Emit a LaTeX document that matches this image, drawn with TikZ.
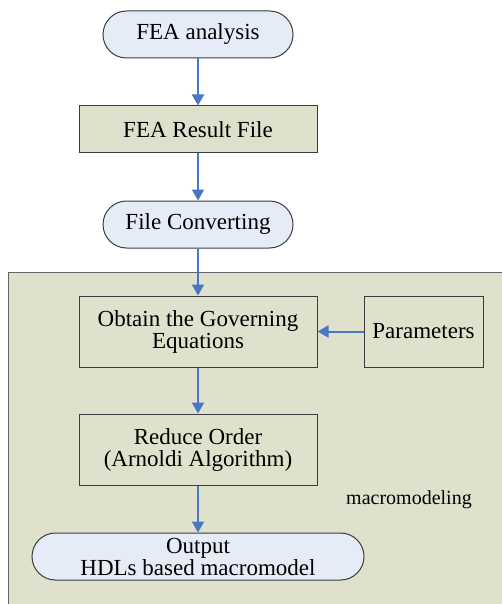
\documentclass[tikz,border=0pt]{standalone}
\usepackage{fontspec}
\setmainfont{Liberation Serif}
\usetikzlibrary{shapes.misc,arrows.meta}
\definecolor{capfill}{RGB}{230,236,247}
\definecolor{boxfill}{RGB}{221,224,203}
\definecolor{bgfill}{RGB}{223,225,204}
\definecolor{arrowblue}{RGB}{70,120,196}
\definecolor{edge}{RGB}{60,60,60}
\tikzset{
  capsule/.style={rounded rectangle, draw=edge, line width=1pt, fill=capfill, minimum height=47pt, inner sep=0pt, font=\fontsize{23}{22}\selectfont, align=center},
  boxnode/.style={rectangle, draw=edge, line width=1pt, fill=boxfill, inner sep=0pt, font=\fontsize{23}{22}\selectfont, align=center},
  flow/.style={draw=arrowblue, line width=2pt, -{Triangle[length=11pt,width=12pt]}}
}
\begin{document}
\begin{tikzpicture}[x=1pt,y=-1pt]
\useasboundingbox (0,0) rectangle (501,604);
\fill[white] (0,0) rectangle (501,604);
\node[draw=edge!80, line width=1pt, fill=bgfill, minimum width=500pt, minimum height=340pt, anchor=north west, inner sep=0pt] (macro) at (8,272) {};
\node[capsule, minimum width=190pt] (fea) at (198,34.5) {FEA analysis};
\node[boxnode, minimum width=238pt, minimum height=47pt] (res) at (198,129.5) {FEA Result File};
\node[capsule, minimum width=190pt] (conv) at (198,224.5) {File Converting};
\node[boxnode, fill=bgfill, minimum width=238pt, minimum height=71pt] (obt) at (198,331.5) {Obtain the Governing\\Equations};
\node[boxnode, fill=bgfill, minimum width=119pt, minimum height=71pt] (par) at (423.5,331.5) {Parameters};
\node[boxnode, fill=bgfill, minimum width=238pt, minimum height=71pt] (red) at (198,449.5) {Reduce Order\\(Arnoldi Algorithm)};
\node[capsule, minimum width=332pt] (out) at (198,556.5) {Output\\HDLs based macromodel};
\node[font=\fontsize{20}{22}\selectfont, inner sep=0pt] (lbl) at (409,500) {macromodeling};
\draw[flow] (fea) -- (res);
\draw[flow] (res) -- (conv);
\draw[flow] (conv) -- (obt);
\draw[flow] (par) -- (obt);
\draw[flow] (obt) -- (red);
\draw[flow] (red) -- (out);
\end{tikzpicture}
\end{document}
